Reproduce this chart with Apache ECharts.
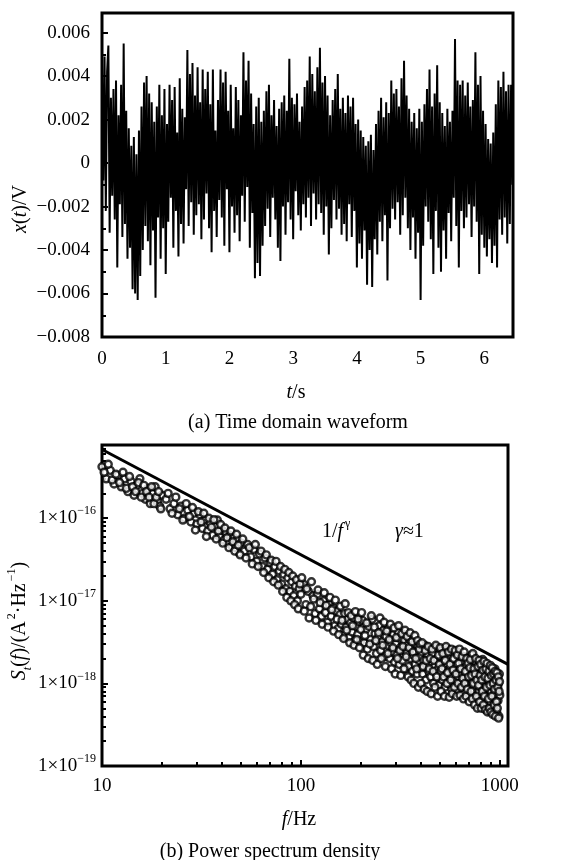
<!DOCTYPE html>
<html><head><meta charset="utf-8">
<script src="https://cdn.jsdelivr.net/npm/echarts@6/dist/echarts.min.js"></script>
<style>html,body{margin:0;padding:0;background:#fff}#c{width:563px;height:860px}</style>
</head><body><div id="c"></div>
<script>
// ---------- (a) time domain waveform ----------
const sampleIntervalS = 0.02;
const waveformV = [
4.6e-3,-0.8e-3,4.9e-3,-2.2e-3,4.2e-3, 5.4e-3,-3.2e-3,3.0e-3,-1.5e-3,3.4e-3,
-2.6e-3,3.8e-3,-4.8e-3,2.2e-3,-1.9e-3, 3.6e-3,-3.4e-3,5.5e-3,-2.8e-3,2.4e-3,
-4.4e-3,1.6e-3,-3.9e-3,0.8e-3,-5.8e-3, 1.2e-3,-6.0e-3,0.4e-3,-6.3e-3,1.5e-3,
-5.2e-3,2.6e-3,-4.0e-3,3.7e-3,-2.9e-3, 4.0e-3,-3.6e-3,3.2e-3,-4.7e-3,2.8e-3,
-3.1e-3,1.9e-3,-6.2e-3,2.6e-3,-2.5e-3, 3.6e-3,-4.4e-3,2.2e-3,-3.0e-3,3.4e-3,
-5.1e-3,1.8e-3,-2.7e-3,3.6e-3,-1.6e-3, 2.9e-3,-3.9e-3,3.5e-3,-2.2e-3,1.4e-3,
-4.3e-3,3.9e-3,-2.8e-3,2.5e-3,-3.7e-3, 2.1e-3,-1.2e-3,5.2e-3,-2.9e-3,4.1e-3,
-1.8e-3,4.6e-3,-3.3e-3,3.1e-3,-2.4e-3, 4.4e-3,-1.9e-3,2.8e-3,-3.5e-3,4.3e-3,
-2.6e-3,3.4e-3,-1.4e-3,4.2e-3,-3.0e-3, 2.7e-3,-4.1e-3,4.3e-3,-2.2e-3,1.5e-3,
-3.4e-3,2.9e-3,-1.7e-3,4.3e-3,-2.5e-3, 3.7e-3,-3.8e-3,4.2e-3,-1.2e-3,2.4e-3,
-4.1e-3,3.6e-3,-2.0e-3,1.6e-3,-3.2e-3, 3.5e-3,-2.4e-3,2.9e-3,-3.6e-3,2.2e-3,
-1.5e-3,5.1e-3,-2.7e-3,3.8e-3,-1.1e-3, 4.7e-3,-3.9e-3,3.2e-3,-2.3e-3,1.8e-3,
-5.3e-3,2.6e-3,-4.6e-3,3.0e-3,-5.2e-3, 1.9e-3,-3.8e-3,2.4e-3,-2.9e-3,3.3e-3,
-2.1e-3,3.6e-3,-3.4e-3,2.2e-3,-1.6e-3, 2.9e-3,-2.6e-3,1.7e-3,-3.9e-3,2.5e-3,
-4.5e-3,2.8e-3,-2.0e-3,3.1e-3,-3.3e-3, 2.4e-3,-1.8e-3,4.8e-3,-2.6e-3,3.0e-3,
-3.5e-3,2.7e-3,-1.3e-3,3.2e-3,-2.4e-3, 1.9e-3,-3.1e-3,2.6e-3,-1.9e-3,3.5e-3,
-2.5e-3,3.8e-3,-1.6e-3,4.9e-3,-2.9e-3, 4.1e-3,-1.4e-3,3.3e-3,-2.6e-3,4.4e-3,
-1.9e-3,5.3e-3,-2.3e-3,3.7e-3,-3.3e-3, 4.0e-3,-2.0e-3,3.1e-3,-4.2e-3,2.2e-3,
-3.0e-3,2.9e-3,-1.7e-3,3.4e-3,-2.6e-3, 4.1e-3,-2.1e-3,2.5e-3,-3.3e-3,3.0e-3,
-2.8e-3,2.3e-3,-3.6e-3,3.1e-3,-1.9e-3, 2.6e-3,-3.4e-3,3.0e-3,-2.2e-3,1.8e-3,
-4.8e-3,2.0e-3,-3.7e-3,1.5e-3,-4.4e-3, 1.2e-3,-3.1e-3,0.8e-3,-5.6e-3,1.0e-3,
-4.0e-3,1.3e-3,-5.7e-3,0.6e-3,-3.5e-3, 1.8e-3,-4.2e-3,2.4e-3,-2.7e-3,3.0e-3,
-3.6e-3,2.1e-3,-2.4e-3,2.8e-3,-5.4e-3, 2.3e-3,-3.0e-3,3.8e-3,-2.1e-3,3.2e-3,
-2.6e-3,3.4e-3,-1.8e-3,2.6e-3,-3.3e-3, 3.9e-3,-2.4e-3,4.7e-3,-1.6e-3,3.1e-3,
-3.0e-3,2.5e-3,-4.0e-3,1.9e-3,-2.5e-3, 2.3e-3,-4.4e-3,1.6e-3,-3.2e-3,2.5e-3,
-6.3e-3,1.9e-3,-3.8e-3,2.7e-3,-2.0e-3, 3.4e-3,-2.7e-3,4.3e-3,-3.5e-3,2.6e-3,
-5.1e-3,3.2e-3,-2.2e-3,4.5e-3,-3.9e-3, 2.8e-3,-5.0e-3,2.3e-3,-3.1e-3,1.7e-3,
-4.4e-3,2.5e-3,-2.3e-3,1.9e-3,-3.6e-3, 2.4e-3,-1.6e-3,5.7e-3,-2.9e-3,3.8e-3,
-4.8e-3,3.6e-3,-2.2e-3,3.8e-3,-3.0e-3, 3.1e-3,-2.5e-3,3.7e-3,-1.9e-3,2.6e-3,
-3.4e-3,2.9e-3,-2.0e-3,5.1e-3,-2.7e-3, 3.6e-3,-5.1e-3,4.0e-3,-3.3e-3,2.4e-3,
-3.9e-3,1.8e-3,-4.3e-3,1.1e-3,-3.5e-3, 0.9e-3,-4.6e-3,1.4e-3,-3.8e-3,2.7e-3,
-4.8e-3,3.8e-3,-2.6e-3,3.5e-3,-3.3e-3, 4.2e-3,-2.5e-3,3.3e-3,-3.7e-3,3.6e-3,
-2.8e-3,3.6e-3,-1.0e-3
];
const timeTicks = [0,1,2,3,4,5,6];
const timeMinorTicks = [0.5,1.5,2.5,3.5,4.5,5.5];
const voltTicks = [-0.008,-0.006,-0.004,-0.002,0,0.002,0.004,0.006];
const voltMinorTicks = [-0.007,-0.005,-0.003,-0.001,0.001,0.003,0.005];

// ---------- (b) power spectrum density ----------
const freqHz = [
10,10.5,11,11.5,12,12.5,13,13.5,14,14.5,15,15.5,16,16.5,17,17.5,18,18.5,19,19.5,20,
21,22,23,24,25,26,27,28,29,30,31,32,33,34,35,36,37,38,39,40,41,42,43,44,45,46,47,48,49,50,
52,54,56,58,60,62,64,66,68,70,72,74,76,78,80,82,84,86,88,90,92,94,96,98,100,
103,106,109,112,115,118,121,124,127,130,133,136,139,142,145,148,151,154,157,160,163,166,169,172,175,178,181,184,187,190,193,196,199,
204,208,212,216,220,224,228,232,236,240,244,248,252,256,260,264,268,272,276,280,284,288,292,296,300,
304,308,312,316,320,324,328,332,336,340,344,348,352,356,360,364,368,372,376,380,384,388,392,396,400,
405,410,415,420,425,430,435,440,445,450,455,460,465,470,475,480,485,490,495,500,
505,510,515,520,525,530,535,540,545,550,555,560,565,570,575,580,585,590,595,600,
605,610,615,620,625,630,635,640,645,650,655,660,665,670,675,680,685,690,695,700,
705,710,715,720,725,730,735,740,745,750,755,760,765,770,775,780,785,790,795,800,
805,810,815,820,825,830,835,840,845,850,855,860,865,870,875,880,885,890,895,900,
905,910,915,920,925,930,935,940,945,950,955,960,965,970,975,980,985,990,995,1000,
10.25,10.75,11.25,11.75,12.25,12.75,13.25,13.75,14.25,14.75,15.25,15.75,16.25,16.75,17.25,17.75,18.25,18.75,19.25,19.75,
21.5,22.5,23.5,24.5,25.5,26.5,27.5,28.5,29.5,30.5,31.5,32.5,33.5,34.5,35.5,36.5,37.5,38.5,39.5,40.5,41.5,42.5,43.5,44.5,45.5,46.5,47.5,48.5,49.5,
51,53,55,57,59,61,63,65,67,69,71,73,75,77,79,81,83,85,87,89,91,93,95,97,99,
101,104,107,110,113,116,119,122,125,128,131,134,137,140,143,146,149,152,155,158,161,164,167,170,173,176,179,182,185,188,191,194,197,200,
202,206,210,214,218,222,226,230,234,238,242,246,250,254,258,262,266,270,274,278,282,286,290,294,298,
302,306,310,314,318,322,326,330,334,338,342,346,350,354,358,362,366,370,374,378,382,386,390,394,398,
402,407,412,417,422,427,432,437,442,447,452,457,462,467,472,477,482,487,492,497,
502,507,512,517,522,527,532,537,542,547,552,557,562,567,572,577,582,587,592,597,
602,607,612,617,622,627,632,637,642,647,652,657,662,667,672,677,682,687,692,697,
702,707,712,717,722,727,732,737,742,747,752,757,762,767,772,777,782,787,792,797,
802,807,812,817,822,827,832,837,842,847,852,857,862,867,872,877,882,887,892,897,
902,907,912,917,922,927,932,937,942,947,952,957,962,967,972,977,982,987,992,997
];
const psdA2PerHz = [
420e-18,300e-18,380e-18,260e-18,330e-18,240e-18,300e-18,210e-18,280e-18,190e-18,250e-18,300e-18,200e-18,170e-18,230e-18,150e-18,200e-18,240e-18,160e-18,140e-18,190e-18,
170e-18,130e-18,150e-18,110e-18,140e-18,100e-18,125e-18,90e-18,115e-18,85e-18,110e-18,75e-18,95e-18,70e-18,88e-18,62e-18,80e-18,95e-18,60e-18,72e-18,54e-18,68e-18,50e-18,62e-18,46e-18,58e-18,44e-18,55e-18,38e-18,50e-18,
40e-18,48e-18,34e-18,42e-18,30e-18,37e-18,26e-18,33e-18,24e-18,29e-18,21e-18,26e-18,18e-18,23e-18,16e-18,21e-18,14e-18,19e-18,13e-18,17e-18,11.5e-18,15e-18,10e-18,14e-18,12e-18,
16e-18,9e-18,13e-18,8.5e-18,11.5e-18,7e-18,12e-18,8e-18,6.5e-18,10e-18,7.2e-18,5.5e-18,9e-18,6.5e-18,8.2e-18,5e-18,7.5e-18,4.6e-18,6.8e-18,5.2e-18,3.8e-18,7e-18,4.8e-18,6e-18,3.6e-18,5.4e-18,4.2e-18,6.2e-18,3.3e-18,4.9e-18,3.9e-18,5.6e-18,3.2e-18,
5.8e-18,3.1e-18,4.5e-18,2.6e-18,4.9e-18,3.4e-18,6.0e-18,2.8e-18,4.0e-18,2.3e-18,3.6e-18,5.0e-18,2.5e-18,3.2e-18,4.4e-18,2.1e-18,3.7e-18,2.9e-18,4.6e-18,2.0e-18,3.1e-18,2.4e-18,3.9e-18,1.8e-18,3.0e-18,
2.2e-18,4.2e-18,1.7e-18,2.7e-18,3.5e-18,1.9e-18,2.5e-18,3.3e-18,1.5e-18,2.3e-18,2.9e-18,1.6e-18,3.4e-18,2.0e-18,2.6e-18,1.4e-18,2.2e-18,3.0e-18,1.7e-18,2.4e-18,1.3e-18,2.8e-18,1.9e-18,2.1e-18,1.5e-18,
2.4e-18,1.3e-18,1.9e-18,2.9e-18,1.1e-18,1.7e-18,2.2e-18,1.4e-18,2.6e-18,1.2e-18,1.8e-18,2.3e-18,1.0e-18,1.6e-18,2.7e-18,1.3e-18,2.0e-18,1.5e-18,0.95e-18,2.1e-18,
1.4e-18,2.5e-18,1.1e-18,1.8e-18,1.6e-18,0.9e-18,2.2e-18,1.3e-18,1.7e-18,2.6e-18,1.0e-18,1.5e-18,2.0e-18,1.2e-18,0.85e-18,1.9e-18,1.4e-18,2.3e-18,1.1e-18,1.6e-18,
0.8e-18,1.7e-18,2.4e-18,1.2e-18,1.45e-18,0.95e-18,2.0e-18,1.3e-18,1.05e-18,1.8e-18,1.5e-18,0.75e-18,2.1e-18,1.25e-18,1.6e-18,0.9e-18,1.35e-18,1.9e-18,1.0e-18,1.15e-18,
1.7e-18,0.7e-18,1.4e-18,2.2e-18,1.05e-18,1.3e-18,0.85e-18,1.6e-18,1.2e-18,0.95e-18,1.85e-18,1.1e-18,0.65e-18,1.45e-18,1.0e-18,1.3e-18,0.8e-18,1.7e-18,1.15e-18,0.9e-18,
1.4e-18,0.6e-18,1.2e-18,1.95e-18,0.85e-18,1.05e-18,1.35e-18,0.75e-18,1.55e-18,0.95e-18,1.1e-18,0.55e-18,1.3e-18,0.85e-18,1.6e-18,0.7e-18,1.0e-18,1.25e-18,0.6e-18,1.45e-18,
0.8e-18,1.05e-18,0.5e-18,1.35e-18,0.9e-18,0.65e-18,1.2e-18,0.75e-18,1.5e-18,0.58e-18,0.95e-18,1.15e-18,0.45e-18,0.85e-18,1.25e-18,0.62e-18,1.0e-18,0.4e-18,1.3e-18,0.72e-18,
360e-18,450e-18,290e-18,340e-18,270e-18,360e-18,230e-18,320e-18,240e-18,210e-18,270e-18,180e-18,250e-18,210e-18,180e-18,240e-18,150e-18,180e-18,210e-18,130e-18,
200e-18,115e-18,180e-18,130e-18,95e-18,150e-18,105e-18,135e-18,72e-18,120e-18,90e-18,115e-18,60e-18,100e-18,78e-18,96e-18,56e-18,70e-18,84e-18,50e-18,76e-18,58e-18,44e-18,70e-18,52e-18,40e-18,64e-18,47e-18,36e-18,
56e-18,33e-18,44e-18,28e-18,48e-18,26e-18,40e-18,22e-18,36e-18,19e-18,31e-18,17e-18,30e-18,15.5e-18,26e-18,13e-18,24e-18,11e-18,22e-18,10e-18,20e-18,9e-18,18e-18,8e-18,16e-18,
19e-18,7.5e-18,14e-18,6.2e-18,17e-18,10.5e-18,5.8e-18,13.5e-18,9.5e-18,5.2e-18,12.5e-18,8.8e-18,4.8e-18,11e-18,7.8e-18,4.3e-18,10.2e-18,6e-18,3.9e-18,8.6e-18,5.8e-18,3.5e-18,9.2e-18,4.4e-18,7.2e-18,3.1e-18,6.6e-18,5e-18,2.9e-18,7.4e-18,3.4e-18,6e-18,2.7e-18,4.5e-18,
7.2e-18,2.2e-18,3.8e-18,5.4e-18,2.0e-18,3.0e-18,6.6e-18,1.9e-18,4.8e-18,3.3e-18,1.7e-18,4.1e-18,6.2e-18,2.0e-18,2.9e-18,5.5e-18,1.6e-18,4.3e-18,2.3e-18,3.4e-18,5.2e-18,1.5e-18,2.7e-18,4.7e-18,1.3e-18,
3.6e-18,2.0e-18,5.0e-18,2.5e-18,1.25e-18,4.0e-18,2.8e-18,1.5e-18,4.4e-18,2.1e-18,3.7e-18,1.2e-18,2.7e-18,4.1e-18,1.1e-18,3.2e-18,2.4e-18,1.0e-18,3.8e-18,2.0e-18,1.5e-18,3.3e-18,0.9e-18,2.6e-18,3.0e-18,
1.0e-18,3.1e-18,1.6e-18,0.85e-18,2.5e-18,1.9e-18,0.8e-18,2.8e-18,1.5e-18,2.0e-18,0.75e-18,2.6e-18,1.4e-18,1.9e-18,0.9e-18,2.9e-18,1.2e-18,0.7e-18,2.2e-18,1.7e-18,
2.7e-18,0.8e-18,1.5e-18,2.3e-18,1.2e-18,0.7e-18,1.9e-18,2.8e-18,1.0e-18,1.35e-18,2.4e-18,0.68e-18,1.7e-18,1.1e-18,2.6e-18,0.75e-18,1.45e-18,2.0e-18,0.9e-18,2.5e-18,
1.3e-18,0.7e-18,2.2e-18,1.0e-18,1.75e-18,2.6e-18,0.72e-18,1.5e-18,0.9e-18,2.1e-18,1.15e-18,0.65e-18,2.4e-18,1.0e-18,1.4e-18,0.7e-18,2.0e-18,0.85e-18,1.75e-18,1.2e-18,
0.6e-18,1.55e-18,1.95e-18,0.8e-18,1.25e-18,0.65e-18,2.3e-18,1.0e-18,1.5e-18,0.55e-18,1.3e-18,2.0e-18,0.7e-18,1.1e-18,0.5e-18,1.6e-18,0.95e-18,1.9e-18,0.6e-18,1.25e-18,
1.7e-18,0.5e-18,1.1e-18,0.8e-18,1.45e-18,0.55e-18,1.85e-18,0.7e-18,1.2e-18,0.48e-18,1.5e-18,0.9e-18,1.75e-18,0.45e-18,1.15e-18,0.65e-18,1.4e-18,0.5e-18,0.95e-18,1.65e-18,
0.45e-18,1.25e-18,0.7e-18,1.55e-18,0.42e-18,1.0e-18,1.3e-18,0.55e-18,0.85e-18,1.4e-18,0.4e-18,1.1e-18,0.6e-18,1.35e-18,0.5e-18,0.9e-18,1.2e-18,0.38e-18,0.8e-18,1.05e-18
];
const fitLineHz = [10, 1100];
const fitLineA2PerHz = [680e-18, 1.7e-18];
const freqLabelTicks = [10, 100, 1000];
const freqMinorTicks = [20,30,40,50,60,70,80,90,200,300,400,500,600,700,800,900];
const psdLabelTicks = [1e-19, 1e-18, 1e-17, 1e-16];
const psdMinorTicks = [2e-19,3e-19,4e-19,5e-19,6e-19,7e-19,8e-19,9e-19,2e-18,3e-18,4e-18,5e-18,6e-18,7e-18,8e-18,9e-18,
  2e-17,3e-17,4e-17,5e-17,6e-17,7e-17,8e-17,9e-17,2e-16,3e-16,4e-16,5e-16,6e-16,7e-16];

// ---------- chart ----------
const FONT = '"Liberation Serif","Times New Roman",serif';
const lbl = {fontFamily: FONT, fontSize: 19, color: '#000'};
const tickStyle = {color: '#000', width: 2};
const chart = echarts.init(document.getElementById('c'), null, {renderer: 'canvas'});

function voltLabel(v) {
  if (Math.abs(v) < 1e-12) return '0';
  return (v < 0 ? '\u2212' : '') + Math.abs(v).toFixed(3);
}
function psdLabel(v) {
  const e = Math.round(Math.log10(v));
  return '{b|1\u00d710}{s|\u2212' + Math.abs(e) + '}';
}
const supRich = {
  b: {fontFamily: FONT, fontSize: 19, color: '#000', lineHeight: 26},
  s: {fontFamily: FONT, fontSize: 12, color: '#000', lineHeight: 12, verticalAlign: 'top'}
};
function baseAxis(extra) {
  return Object.assign({
    axisLine: {show: false},
    splitLine: {show: false},
    minorTick: {show: false}
  }, extra);
}
const tok = (o) => Object.assign({fontFamily: FONT, fontSize: 20, color: '#000'}, o);
const titleRich = {
  n: tok({lineHeight: 28}),
  i: tok({fontStyle: 'italic', lineHeight: 28}),
  sup: tok({fontSize: 12, lineHeight: 12, verticalAlign: 'top', padding: [0, 0, 0, 2]}),
  sub: tok({fontSize: 12, lineHeight: 12, verticalAlign: 'bottom', fontStyle: 'italic'})
};
function txt(x, y, text, opts) {
  opts = opts || {};
  return {
    type: 'text', x: x, y: y, rotation: opts.rot || 0, z: 100,
    style: {
      text: text, rich: titleRich, fontFamily: FONT, fontSize: 20, fill: '#000',
      align: opts.align || 'center', verticalAlign: 'middle',
      textAlign: opts.align || 'center', textVerticalAlign: 'middle'
    }
  };
}

chart.setOption({
  animation: false,
  backgroundColor: '#fff',
  grid: [
    {left: 102, top: 13, width: 411, height: 324, show: true, borderColor: '#000', borderWidth: 3, backgroundColor: 'transparent', containLabel: false, outerBoundsMode: 'none'},
    {left: 102, top: 445, width: 406, height: 321, show: true, borderColor: '#000', borderWidth: 3, backgroundColor: 'transparent', containLabel: false, outerBoundsMode: 'none'}
  ],
  xAxis: [
    baseAxis({gridIndex: 0, type: 'value', position: 'bottom', min: 0, max: 6.45,
      axisTick: {show: true, inside: true, length: 6, lineStyle: tickStyle, customValues: timeTicks},
      axisLabel: Object.assign({customValues: timeTicks, margin: 13}, lbl)}),
    baseAxis({gridIndex: 0, type: 'value', position: 'bottom', min: 0, max: 6.45,
      axisTick: {show: true, inside: true, length: 4, lineStyle: tickStyle, customValues: timeMinorTicks},
      axisLabel: {show: false}}),
    baseAxis({gridIndex: 1, type: 'log', logBase: 10, position: 'bottom', min: 10, max: 1100,
      axisTick: {show: true, inside: true, length: 6, lineStyle: tickStyle, customValues: freqLabelTicks},
      axisLabel: Object.assign({customValues: freqLabelTicks, margin: 11, formatter: (v) => String(Math.round(v))}, lbl)}),
    baseAxis({gridIndex: 1, type: 'log', logBase: 10, position: 'bottom', min: 10, max: 1100,
      axisTick: {show: true, inside: true, length: 4, lineStyle: tickStyle, customValues: freqMinorTicks},
      axisLabel: {show: false}})
  ],
  yAxis: [
    baseAxis({gridIndex: 0, type: 'value', position: 'left', min: -0.008, max: 0.0069,
      axisTick: {show: true, inside: true, length: 6, lineStyle: tickStyle, customValues: voltTicks},
      axisLabel: Object.assign({customValues: voltTicks, margin: 12, formatter: voltLabel}, lbl)}),
    baseAxis({gridIndex: 0, type: 'value', position: 'left', min: -0.008, max: 0.0069,
      axisTick: {show: true, inside: true, length: 4, lineStyle: tickStyle, customValues: voltMinorTicks},
      axisLabel: {show: false}}),
    baseAxis({gridIndex: 1, type: 'log', logBase: 10, position: 'left', min: 1e-19, max: 7.7e-16,
      axisTick: {show: true, inside: true, length: 6, lineStyle: tickStyle, customValues: psdLabelTicks},
      axisLabel: Object.assign({customValues: psdLabelTicks, margin: 6, formatter: psdLabel, rich: supRich}, lbl)}),
    baseAxis({gridIndex: 1, type: 'log', logBase: 10, position: 'left', min: 1e-19, max: 7.7e-16,
      axisTick: {show: true, inside: true, length: 4, lineStyle: tickStyle, customValues: psdMinorTicks},
      axisLabel: {show: false}})
  ],
  series: [
    {
      type: 'line', xAxisIndex: 0, yAxisIndex: 0, silent: true,
      data: waveformV.map((v, i) => [i * sampleIntervalS, v]),
      showSymbol: false, symbol: 'none', sampling: null,
      lineStyle: {color: '#000', width: 2}
    },
    {
      type: 'scatter', xAxisIndex: 2, yAxisIndex: 2, silent: true,
      data: freqHz.map((f, i) => [f, psdA2PerHz[i]]),
      symbol: 'circle', symbolSize: 7,
      itemStyle: {color: '#fff', borderColor: '#000', borderWidth: 2.4}
    },
    {
      type: 'line', xAxisIndex: 2, yAxisIndex: 2, silent: true,
      data: fitLineHz.map((f, i) => [f, fitLineA2PerHz[i]]),
      showSymbol: false, symbol: 'none',
      lineStyle: {color: '#000', width: 3}
    }
  ],
  graphic: [
    txt(21, 209, '{i|x}{n|(}{i|t}{n|)/V}', {rot: Math.PI / 2}),
    txt(296, 393, '{i|t}{n|/s}'),
    txt(298, 423, '{n|(a) Time domain waveform}'),
    txt(20, 621, '{i|S}{sub|t}{n|(}{i|f}{n|)/(A}{sup|2}{n|\u00b7Hz}{sup|\u22121}{n|)}', {rot: Math.PI / 2}),
    txt(299, 820, '{i|f}{n|/Hz}'),
    txt(270, 852, '{n|(b) Power spectrum density}'),
    txt(322, 532, '{n|1/}{i|f}{sup|\u03b3}', {align: 'left'}),
    txt(395, 532, '{i|\u03b3}{n|\u22481}', {align: 'left'})
  ]
});
</script>
</body></html>
